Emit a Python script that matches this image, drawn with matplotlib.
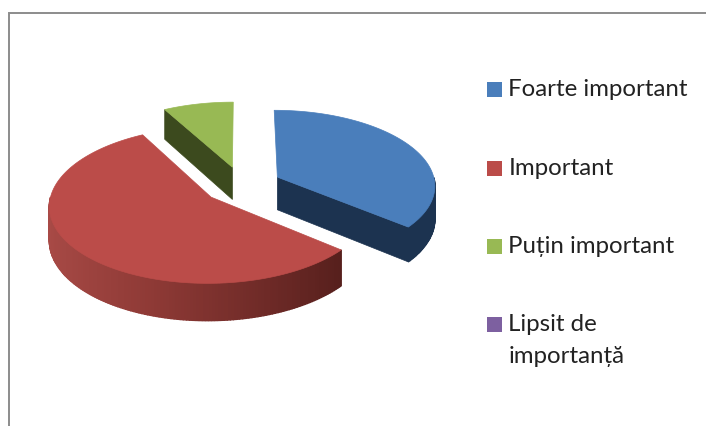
import numpy as np
import matplotlib
matplotlib.use("Agg")
import matplotlib.pyplot as plt
from matplotlib.colors import LinearSegmentedColormap
from matplotlib.patches import Polygon, Rectangle

categories = ["Foarte important", "Important", "Puțin important", "Lipsit de\nimportanță"]
values = [36, 56, 8, 0]

top_colors = ["#4a7ebb", "#bb4c49", "#98b954", "#7d60a0"]
rim_ramps = [["#1c3350", "#1c3350"],
             ["#a84a46", "#8f3a36", "#6e2a27", "#4a1a17"],
             ["#3c4a1e", "#3c4a1e"],
             ["#3f3050", "#3f3050"]]
side_colors = ["#1c3350", "#4a1a17", "#3c4a1e", "#3f3050"]

# geometria pie-ului, in pixeli
CX, CY = 242, 185
RX, RY = 158, 75
DEPTH = 33
PERSP = 0.1
EXPLODE = 0.25
ZORDER_DRAW = [2, 1, 0]


def project(u, v, drop=0.0):
    """Disc coordinates -> pixels, with a little perspective"""
    s = 1 / (1 + PERSP * v)
    return CX + RX * u * s, CY - RY * v * s + DEPTH * s * drop


def polar(a):
    """Angle clockwise from 12 o'clock -> unit vector"""
    r = np.radians(a)
    return np.sin(r), np.cos(r)


def draw_slice(ax, a0, a1, top_color, ramp, side_color):
    ox, oy = polar((a0 + a1) / 2)
    ox, oy = ox * EXPLODE, oy * EXPLODE
    angles = np.linspace(a0, a1, max(int(a1 - a0), 2) + 1)
    cmap = LinearSegmentedColormap.from_list("rim", ramp)

    # taieturile laterale
    for a, sign in ((a0, -1), (a1, 1)):
        if polar(a + sign * 90)[1] < 0:
            ex, ey = polar(a)
            face = [project(ox, oy), project(ox + ex, oy + ey),
                    project(ox + ex, oy + ey, 1), project(ox, oy, 1)]
            ax.add_patch(Polygon(face, fc=side_color, ec=side_color, lw=0.5))

    # marginea vizibila
    for b0, b1 in zip(angles[:-1], angles[1:]):
        mid = (b0 + b1) / 2
        if polar(mid)[1] >= 0:
            continue
        x0, y0 = polar(b0)
        x1, y1 = polar(b1)
        quad = [project(ox + x0, oy + y0), project(ox + x1, oy + y1),
                project(ox + x1, oy + y1, 1), project(ox + x0, oy + y0, 1)]
        c = cmap((polar(mid)[0] + 1) / 2)
        ax.add_patch(Polygon(quad, fc=c, ec=c, lw=1.0))

    # fata de sus
    pts = [project(ox, oy)]
    for a in angles:
        x, y = polar(a)
        pts.append(project(ox + x, oy + y))
    ax.add_patch(Polygon(pts, fc=top_color, ec=top_color, lw=0.5))


fig = plt.figure(figsize=(7.06, 4.26), dpi=100)
ax = fig.add_axes([0, 0, 1, 1])
ax.set_xlim(0, 706)
ax.set_ylim(426, 0)
ax.axis("off")

# cadrul
ax.plot([8.5, 8.5, 706], [426, 12.5, 12.5], color="#8c8c8c", lw=1.4, solid_joinstyle="miter")

edges = np.concatenate([[0], np.cumsum(values)]) * 360 / sum(values)
for i in ZORDER_DRAW:
    draw_slice(ax, edges[i], edges[i + 1], top_colors[i], rim_ramps[i], side_colors[i])

# legenda
legend_y = [89, 168, 246, 324]
for name, color, y in zip(categories, top_colors, legend_y):
    ax.add_patch(Rectangle((487, y - 7.5), 15, 15, fc=color, ec="none"))
    ax.text(508.5, y - 10, name, family="Lato", fontsize=17.3, color="#222222",
            va="top", ha="left", linespacing=1.62)

fig.savefig("out.png", dpi=100)
